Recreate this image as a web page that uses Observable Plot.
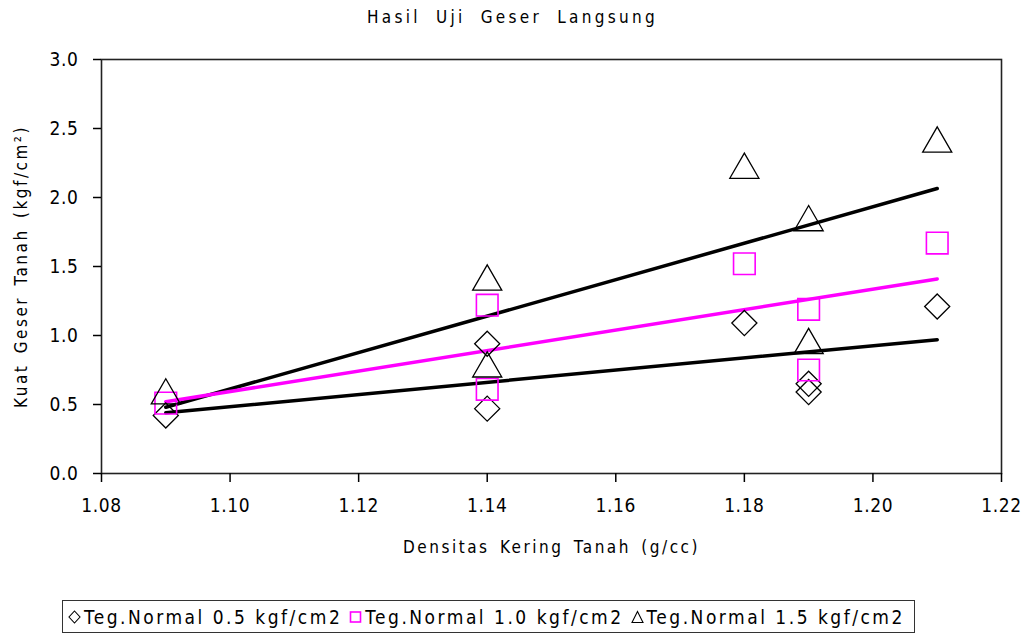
<!DOCTYPE html>
<html><head><meta charset="utf-8">
<script src="https://cdn.jsdelivr.net/npm/d3@7"></script>
<script src="https://cdn.jsdelivr.net/npm/@observablehq/plot@0.6"></script>
<style>
body{margin:0;background:#fff;font-family:"DejaVu Sans Condensed","DejaVu Sans",sans-serif;color:#000;width:1025px;height:641px;position:relative;overflow:hidden;}
#title{height:44px;line-height:34px;text-align:center;font-size:17px;letter-spacing:3.3px;word-spacing:7px;}
#legend{position:absolute;left:62px;top:600px;width:853px;height:33px;border:1.5px solid #333;display:flex;align-items:center;font-size:19px;box-sizing:border-box;padding-left:5px;white-space:nowrap;overflow:hidden;}
#legend .item{display:flex;align-items:center;margin-right:7px;letter-spacing:2.5px;flex-shrink:0;white-space:nowrap;}
#legend svg{margin-right:3px;flex-shrink:0;}
#chart svg text{font-family:"DejaVu Sans Condensed","DejaVu Sans",sans-serif;font-size:17px;}
#chart g[aria-label="text"] text{letter-spacing:2.5px;word-spacing:3px;}
#chart g[aria-label$="tick label"] text{letter-spacing:0.6px;font-size:19px;}
</style></head>
<body>
<div id="title">Hasil Uji Geser Langsung</div>
<div id="chart"></div>
<div id="legend"></div>
<script>
const xTicks = [1.08, 1.10, 1.12, 1.14, 1.16, 1.18, 1.20, 1.22];
const yTicks = [0, 0.5, 1.0, 1.5, 2.0, 2.5, 3.0];
const density = [1.09, 1.14, 1.14, 1.18, 1.19, 1.19, 1.21];
const shear05 = [0.42, 0.94, 0.47, 1.09, 0.65, 0.59, 1.21];
const shear10 = [0.51, 1.22, 0.61, 1.52, 1.19, 0.75, 1.67];
const shear15 = [0.565, 1.39, 0.76, 2.20, 1.82, 0.93, 2.39];
const trendX = [1.09, 1.21];
const trend05 = [0.44, 0.97];
const trend10 = [0.52, 1.41];
const trend15 = [0.48, 2.065];
const seriesNames = ["Teg.Normal 0.5 kgf/cm2", "Teg.Normal 1.0 kgf/cm2", "Teg.Normal 1.5 kgf/cm2"];
const xLabel = "Densitas Kering Tanah (g/cc)";
const yLabel = "Kuat Geser Tanah (kgf/cm²)";

const pts = (ys) => density.map((x, i) => ({x, y: ys[i]}));
const tr = (ys) => trendX.map((x, i) => ({x, y: ys[i]}));
const MAG = "#ff00ff";

const plot = Plot.plot({
  width: 1025, height: 524,
  marginTop: 15, marginLeft: 101, marginRight: 24, marginBottom: 95,
  style: {background: "#fff", color: "#000"},
  x: {domain: [1.08, 1.22]},
  y: {domain: [0, 3]},
  marks: [
    Plot.frame({stroke: "#222", strokeWidth: 1.6}),
    Plot.axisX({ticks: xTicks, tickFormat: d3.format(".2f"), tickSize: 9, tickPadding: 16, label: null, strokeWidth: 1.5}),
    Plot.axisY({ticks: yTicks, tickFormat: d3.format(".1f"), tickSize: 8, tickPadding: 15, label: null, strokeWidth: 1.5}),
    Plot.text([xLabel], {frameAnchor: "bottom", dy: 79, textAnchor: "middle"}),
    Plot.text([yLabel], {frameAnchor: "left", dx: -80, rotate: -90, textAnchor: "middle"}),
    Plot.line(tr(trend15), {x: "x", y: "y", stroke: "#000", strokeWidth: 3.5}),
    Plot.line(tr(trend10), {x: "x", y: "y", stroke: MAG, strokeWidth: 3.5}),
    Plot.line(tr(trend05), {x: "x", y: "y", stroke: "#000", strokeWidth: 3.5}),
    Plot.dot(pts(shear05), {x: "x", y: "y", symbol: "diamond2", r: 11.3, stroke: "#000", strokeWidth: 1.3, fill: "none"}),
    Plot.dot(pts(shear10), {x: "x", y: "y", symbol: "square", r: 12.2, stroke: MAG, strokeWidth: 1.6, fill: "none"}),
    Plot.dot(pts(shear15), {x: "x", y: "y", symbol: "triangle", r: 10.8, stroke: "#000", strokeWidth: 1.3, fill: "none"})
  ]
});
document.getElementById("chart").appendChild(plot);

const icons = [
  '<svg width="13" height="14" viewBox="0 0 13 14"><path d="M6.5 1 L12 7 L6.5 13 L1 7 Z" fill="none" stroke="#000" stroke-width="1.1"/></svg>',
  '<svg width="13" height="14" viewBox="0 0 13 14"><rect x="1.5" y="2" width="10" height="10" fill="none" stroke="' + MAG + '" stroke-width="1.6"/></svg>',
  '<svg width="13" height="14" viewBox="0 0 13 14"><path d="M6.5 1.5 L12 12.5 L1 12.5 Z" fill="none" stroke="#000" stroke-width="1.1"/></svg>'
];
const leg = document.getElementById("legend");
seriesNames.forEach((n, i) => {
  const s = document.createElement("span");
  s.className = "item";
  s.innerHTML = icons[i] + "<span>" + n + "</span>";
  leg.appendChild(s);
});
</script>
</body></html>
